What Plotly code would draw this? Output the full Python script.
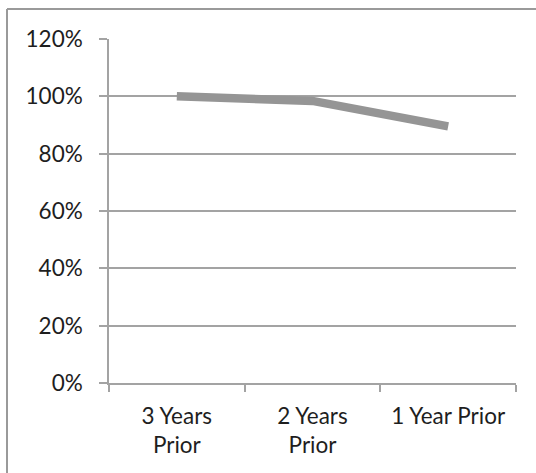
import plotly.graph_objects as go

categories = ["3 Years<br>Prior", "2 Years<br>Prior", "1 Year Prior"]
values = [1.00, 0.984, 0.895]
y_ticks = [0, 0.2, 0.4, 0.6, 0.8, 1.0, 1.2]
y_tick_labels = ["0%", "20%", "40%", "60%", "80%", "100%", "120%"]

W, H = 536, 473
L, R, T, B = 109, 20, 39, 90
pw, ph = W - L - R, H - T - B

def px_x(px):
    return (px - L) / pw

def px_y(py):
    return 1 - (py - T) / ph

grid = "#a3a3a3"
font = dict(family="Lato, 'Open Sans', sans-serif", size=22.5, color="#1e1e1e")

fig = go.Figure()
fig.add_trace(go.Scatter(
    x=categories, y=values, mode="lines",
    line=dict(color="#959595", width=8.5),
    showlegend=False, hoverinfo="skip",
))

fig.update_layout(
    width=W, height=H,
    margin=dict(l=L, r=R, t=T, b=B),
    paper_bgcolor="white", plot_bgcolor="white",
    font=font,
    shapes=[
        dict(type="line", xref="paper", yref="paper",
             x0=px_x(7), x1=px_x(540), y0=px_y(9), y1=px_y(9),
             line=dict(color="#9a9a9a", width=2), layer="above"),
        dict(type="line", xref="paper", yref="paper",
             x0=px_x(7), x1=px_x(7), y0=px_y(9), y1=px_y(480),
             line=dict(color="#9a9a9a", width=2), layer="above"),
    ],
)
fig.update_xaxes(
    type="category", range=[-0.5, 2.5],
    showgrid=False, showline=True, linecolor=grid, linewidth=1.5,
    ticks="outside", tickson="boundaries", ticklen=7, tickcolor=grid, tickwidth=1.5,
    ticklabelstandoff=12,
)
fig.update_yaxes(
    range=[0, 1.2], tickvals=y_ticks, ticktext=y_tick_labels,
    showgrid=True, gridcolor=grid, gridwidth=1.5,
    showline=True, linecolor=grid, linewidth=1.5,
    ticks="outside", ticklen=8, tickcolor=grid, tickwidth=1.5,
    ticklabelstandoff=12, zeroline=False,
)
fig.write_html("out.html", config={"displayModeBar": False},
               post_script="document.body.style.margin='0';document.body.style.padding='0';")
